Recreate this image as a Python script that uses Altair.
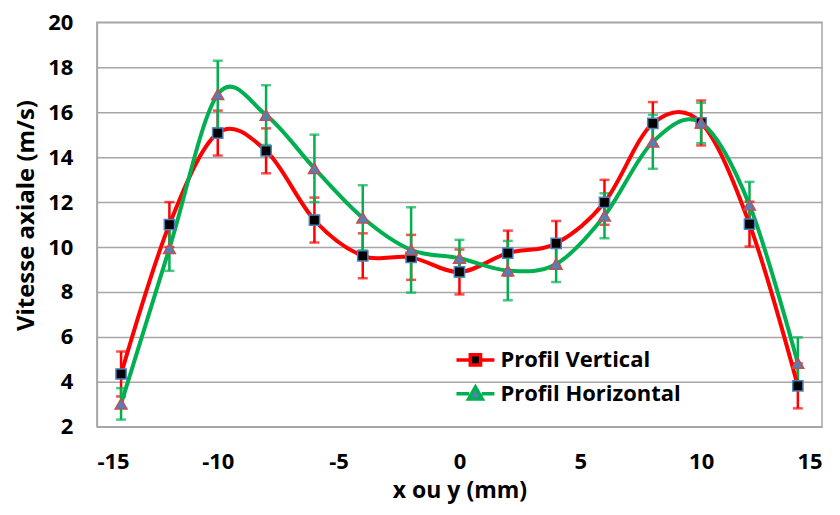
import altair as alt
import pandas as pd

# ---- data ----
x_vals = [-14, -12, -10, -8, -6, -4, -2, 0, 2, 4, 6, 8, 10, 12, 14]
v_vert = [4.35, 11.0, 15.07, 14.28, 11.2, 9.61, 9.54, 8.89, 9.73, 10.16, 11.99, 15.5, 15.52, 11.02, 3.82]
e_vert = [1.0, 1.0, 1.0, 1.0, 1.0, 1.0, 1.0, 1.0, 1.0, 1.0, 1.0, 0.95, 1.0, 1.0, 1.0]
v_horz = [3.02, 9.94, 16.79, 15.87, 13.5, 11.3, 9.87, 9.5, 8.95, 9.24, 11.39, 14.68, 15.52, 11.87, 4.83]
e_horz = [0.7, 1.0, 1.5, 1.33, 1.5, 1.45, 1.9, 0.82, 1.32, 0.8, 1.0, 1.2, 0.9, 1.03, 1.15]
series_names = ["Profil Vertical", "Profil Horizontal"]
x_ticks = [-15, -10, -5, 0, 5, 10, 15]
y_ticks = [2, 4, 6, 8, 10, 12, 14, 16, 18, 20]

rows = []
for name, vals, errs in [(series_names[0], v_vert, e_vert), (series_names[1], v_horz, e_horz)]:
    for xv, yv, ev in zip(x_vals, vals, errs):
        rows.append({"x": xv, "y": yv, "lo": yv - ev, "hi": yv + ev, "series": name})
df = pd.DataFrame(rows)

FONT = "Open Sans"
RED = "#FF0000"
GREEN = "#00B050"

xs = alt.Scale(domain=[-15, 15], nice=False)
ys = alt.Scale(domain=[2, 20], nice=False)

base = alt.Chart(df)
X = alt.X("x:Q", scale=xs, axis=alt.Axis(values=x_ticks, title="x ou y (mm)", grid=False,
                                          ticks=False, labelPadding=25, titlePadding=7,
                                          titleFontSize=23, labelExpr="datum.value + ''"))
Y = alt.Y("y:Q", scale=ys, axis=alt.Axis(values=y_ticks, title="Vitesse axiale (m/s)", grid=True,
                                          ticks=False, labelPadding=24, titleFontSize=24,
                                          titleX=-70, titleY=193, titleBaseline="middle",
                                          labelExpr="datum.value + ''"))


def sel(name):
    return base.transform_filter(alt.datum.series == name)


layers = []
# error bars
for name, col in [(series_names[0], RED), (series_names[1], GREEN)]:
    s = sel(name)
    layers.append(s.mark_rule(color=col, strokeWidth=2.5).encode(x=X, y=alt.Y("lo:Q", scale=ys), y2="hi:Q"))
    layers.append(s.mark_tick(color=col, orient="horizontal", size=10, thickness=2.5).encode(x=X, y=alt.Y("lo:Q", scale=ys)))
    layers.append(s.mark_tick(color=col, orient="horizontal", size=10, thickness=2.5).encode(x=X, y=alt.Y("hi:Q", scale=ys)))
# lines
for name, col in [(series_names[0], RED), (series_names[1], GREEN)]:
    layers.append(sel(name).mark_line(color=col, strokeWidth=4, interpolate="cardinal", tension=0).encode(x=X, y=Y))
# markers
layers.append(sel(series_names[0]).mark_point(shape="square", filled=True, fill="#000000", stroke="#4F81BD",
                                             strokeWidth=1.5, size=105, opacity=1).encode(x=X, y=Y))
layers.append(sel(series_names[1]).mark_point(shape="triangle-up", filled=True, fill="#4F81BD", stroke="#C0504D",
                                             strokeWidth=1.5, size=140, opacity=1).encode(x=X, y=Y))

# legend-only layer (no rows drawn)
sq_path = "M-1,0H-0.27M0.27,0H1M-0.27,-0.27H0.27V0.27H-0.27Z"
tri_path = "M-1,0H-0.33M0.33,0H1M0,-0.36L0.36,0.27H-0.36Z"
legend_layer = base.transform_filter("datum.x > 1000").mark_point(filled=True).encode(
    x=X, y=Y,
    shape=alt.Shape("series:N", scale=alt.Scale(domain=series_names, range=[sq_path, tri_path]),
                    legend=alt.Legend(title=None, orient="none", legendX=358, legendY=317,
                                      symbolSize=1444, symbolStrokeWidth=3.5, labelFont=FONT,
                                      labelFontSize=22, labelFontWeight="bold", labelColor="#000000",
                                      labelOffset=4, rowPadding=0, padding=0, symbolOpacity=1,
                                      labelLimit=400)),
    fill=alt.Fill("series:N", scale=alt.Scale(domain=series_names, range=["#000000", "#4F81BD"])),
    stroke=alt.Stroke("series:N", scale=alt.Scale(domain=series_names, range=[RED, GREEN])),
)
layers.append(legend_layer)

chart = alt.layer(*layers).properties(
    width=726, height=405,
    autosize=alt.AutoSizeParams(type="none"),
    padding={"left": 89, "top": 14, "right": 10, "bottom": 95},
).configure_view(stroke="#A6A6A6", strokeWidth=1.5).configure_axis(
    labelFont=FONT, labelFontSize=22, labelFontWeight="bold", labelColor="#000000",
    titleFont=FONT, titleFontWeight="bold", titleColor="#000000",
    domainColor="#A6A6A6", domainWidth=1.5, gridColor="#A6A6A6", gridWidth=1.5, gridOpacity=1,
)

chart.save("out.html", embed_options={"renderer": "svg", "actions": False})
